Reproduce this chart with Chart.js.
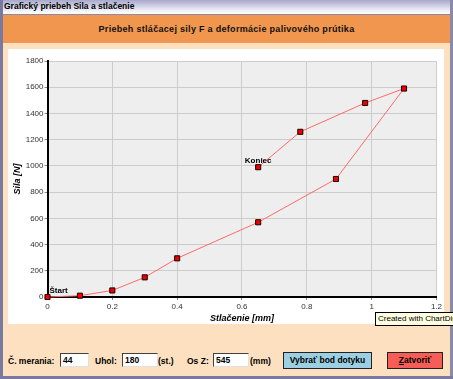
<!DOCTYPE html>
<html>
<head>
<meta charset="utf-8">
<script src="https://cdn.jsdelivr.net/npm/chart.js@4"></script>
<style>
  body { margin: 0; width: 453px; height: 379px; overflow: hidden; font-family: "Liberation Sans", Arial, sans-serif; }
  #win { position: absolute; left: 0; top: 0; width: 453px; height: 379px; background: #fde0bf; overflow: hidden; }
  #frameL { position: absolute; left: 0; top: 0; width: 3px; height: 379px; background: #7a7aa0; }
  #frameR { position: absolute; right: 0; top: 0; width: 3px; height: 379px; background: #8a8aa6; }
  #frameB { position: absolute; left: 0; bottom: 0; width: 453px; height: 3px; background: #7a7aa0; }
  #titlebar { position: absolute; left: 0; top: 0; width: 453px; height: 14px;
    background: linear-gradient(#a8a8cc, #f4f4fc 80%, #ffffff); border-bottom: 1px solid #8a8aa6; }
  #titlebar span { position: absolute; left: 4px; top: 1px; font-size: 8.5px; font-weight: bold; color: #000; }
  #header { position: absolute; left: 3px; top: 15px; width: 447px; height: 28px; background: #f0964f;
    text-align: center; line-height: 28px; font-size: 9px; font-weight: bold; color: #111; letter-spacing: 0.3px; }
  #plotbox { position: absolute; left: 8px; top: 49px; width: 436px; height: 275px; background: #fff; }
  canvas { position: absolute; left: 8px; top: 49px; }
  .lbl { position: absolute; top: 356px; font-size: 8.5px; font-weight: bold; color: #000; }
  .inp { position: absolute; top: 353px; height: 12px; background: #fff; border: 1px solid;
    border-color: #404040 #e0e0e0 #e0e0e0 #404040; font-size: 8.5px; font-weight: bold; line-height: 12px; padding-left: 2px; box-sizing: content-box; }
  .btn { position: absolute; top: 352px; height: 15px; border: 1px solid #222; font-size: 8.5px; font-weight: bold;
    text-align: center; line-height: 15px; color: #000; }
  #tip { position: absolute; left: 375px; top: 312px; width: 90px; height: 12px; background: #ffffe1;
    border: 1px solid #000; font-size: 8px; line-height: 12px; padding-left: 2px; white-space: nowrap; overflow: hidden; }
</style>
</head>
<body>
<div id="win">
  <div id="titlebar"><span>Grafický priebeh Sila a stlačenie</span></div>
  <div id="header">Priebeh stláčacej sily F a deformácie palivového prútika</div>
  <div id="plotbox"></div>
  <canvas id="chart" width="436" height="275"></canvas>

  <div class="lbl" style="left:8px">Č. merania:</div>
  <div class="inp" style="left:60px; width:25px">44</div>
  <div class="lbl" style="left:95px">Uhol:</div>
  <div class="inp" style="left:122px; width:32px">180</div>
  <div class="lbl" style="left:158px">(st.)</div>
  <div class="lbl" style="left:187px">Os Z:</div>
  <div class="inp" style="left:213px; width:32px">545</div>
  <div class="lbl" style="left:250px">(mm)</div>
  <div class="btn" style="left:283px; width:87px; background:#9ccfe2">Vybrať bod dotyku</div>
  <div class="btn" style="left:387px; width:54px; background:#f45e56"><u>Z</u>atvoriť</div>

  <div id="frameL"></div>
  <div id="frameR"></div>
  <div id="frameB"></div>

  <div id="tip">Created with ChartDirector</div>
</div>

<script>
// measured points, in the order they were recorded
const stlacenie = [0, 0.1, 0.2, 0.3, 0.4, 0.65, 0.89, 1.1, 0.98, 0.78, 0.65];
const sila = [0, 10, 50, 150, 295, 570, 900, 1590, 1480, 1260, 990];
const pointLabels = { 0: 'Štart', 10: 'Koniec' };

const xTicks = { min: 0, max: 1.2, step: 0.2 };
const yTicks = { min: 0, max: 1800, step: 200 };

const tickFont = { family: 'Liberation Sans', size: 8 };
const titleFont = { family: 'Liberation Sans', size: 9, weight: 'bold', style: 'italic' };

// light grey plot background
const plotBg = {
  id: 'plotBg',
  beforeDraw(chart) {
    const { ctx, chartArea: a } = chart;
    ctx.save();
    ctx.fillStyle = '#eeeeee';
    ctx.fillRect(a.left, a.top, a.right - a.left, a.bottom - a.top);
    ctx.restore();
  }
};

// "Štart" / "Koniec" labels next to first and last point
const startEnd = {
  id: 'startEnd',
  afterDatasetsDraw(chart) {
    const { ctx } = chart;
    const pts = chart.getDatasetMeta(0).data;
    ctx.save();
    ctx.font = 'bold 8px "Liberation Sans"';
    ctx.fillStyle = '#000';
    ctx.textBaseline = 'alphabetic';
    Object.keys(pointLabels).forEach(i => {
      const p = pts[i];
      if (+i === 0) {
        ctx.textAlign = 'left';
        ctx.fillText(pointLabels[i], p.x + 2, p.y - 4);
      } else {
        ctx.textAlign = 'center';
        ctx.fillText(pointLabels[i], p.x, p.y - 4);
      }
    });
    ctx.restore();
  }
};

const plain = v => String(Math.round(v * 10) / 10);

const ctx = document.getElementById('chart').getContext('2d');
new Chart(ctx, {
  type: 'line',
  data: {
    datasets: [{
      data: stlacenie.map((x, i) => ({ x, y: sila[i] })),
      borderColor: '#ff6a6a',
      borderWidth: 1,
      tension: 0,
      fill: false,
      clip: false,
      pointStyle: 'rect',
      pointRadius: 3.6,
      pointBorderWidth: 1,
      pointBackgroundColor: '#ee0000',
      pointBorderColor: '#1a0000'
    }]
  },
  options: {
    responsive: false,
    devicePixelRatio: 1,
    animation: false,
    layout: { padding: { top: 12, right: 7, left: 0, bottom: 0 } },
    plugins: { legend: { display: false }, tooltip: { enabled: false } },
    scales: {
      x: {
        type: 'linear',
        min: xTicks.min,
        max: xTicks.max,
        afterFit(s) { s.height = 27; },
        ticks: { stepSize: xTicks.step, font: tickFont, color: '#333', padding: 2, maxRotation: 0, callback: plain },
        grid: { color: '#cccccc', tickColor: '#888', tickLength: 3 },
        border: { color: '#000', width: 2 },
        title: { display: true, text: 'Stlačenie [mm]', font: titleFont, color: '#000', padding: 0 }
      },
      y: {
        min: yTicks.min,
        max: yTicks.max,
        afterFit(s) { s.width = 39.5; },
        ticks: { stepSize: yTicks.step, font: tickFont, color: '#333', padding: 1, callback: plain },
        grid: { color: '#cccccc', tickColor: '#888', tickLength: 3 },
        border: { color: '#000', width: 2 },
        title: { display: true, text: 'Sila [N]', font: titleFont, color: '#000', padding: { top: 4, bottom: 0 } }
      }
    }
  },
  plugins: [plotBg, startEnd]
});
</script>
</body>
</html>
